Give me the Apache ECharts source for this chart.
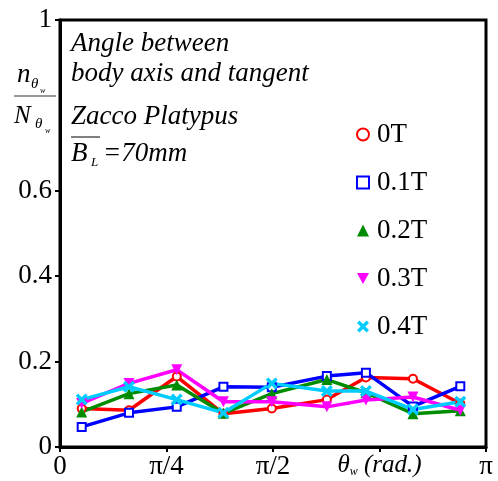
<!DOCTYPE html>
<html>
<head>
<meta charset="utf-8">
<script src="https://cdn.jsdelivr.net/npm/echarts@6/dist/echarts.min.js"></script>
<style>
  html, body { margin: 0; padding: 0; background: #fff; }
  #chart { width: 498px; height: 481px; }
</style>
</head>
<body>
<div id="chart"></div>
<script>
// angle bins (rad) and n/N ratios
var seriesNames = ['0T', '0.1T', '0.2T', '0.3T', '0.4T'];
var binCenters = [0.160, 0.509, 0.861, 1.205, 1.562, 1.968, 2.256, 2.603, 2.952];
var ratio0T  = [0.090, 0.086, 0.165, 0.078, 0.090, 0.111, 0.163, 0.160, 0.102];
var ratio01T = [0.047, 0.080, 0.094, 0.141, 0.140, 0.166, 0.174, 0.095, 0.142];
var ratio02T = [0.082, 0.125, 0.145, 0.079, 0.125, 0.158, 0.127, 0.078, 0.085];
var ratio03T = [0.102, 0.149, 0.181, 0.106, 0.106, 0.094, 0.110, 0.117, 0.086];
var ratio04T = [0.111, 0.141, 0.111, 0.080, 0.149, 0.131, 0.131, 0.088, 0.106];
var yTicks = [0, 0.2, 0.4, 0.6, 1];
var xTicks = [0, Math.PI / 4, Math.PI / 2, 3 * Math.PI / 4, Math.PI];
var xTickLabels = ['0', 'π/4', 'π/2', '{i|θ}{s|w}{i| (rad.)}', 'π'];

var allRatios = [ratio0T, ratio01T, ratio02T, ratio03T, ratio04T];
var colors = ['#ff0000', '#0000ff', '#008c00', '#ff00ff', '#00ccff'];
var crossPath = 'path://M2,0 L5,3 L8,0 L10,2 L7,5 L10,8 L8,10 L5,7 L2,10 L0,8 L3,5 L0,2 Z';
var downTriangle = 'path://M0,0 L10,0 L5,9 Z';
var symbols = ['emptyCircle', 'emptyRect', 'triangle', downTriangle, crossPath];
var sizes = [8, 8, 11, 11, 12];
var serif = '"Liberation Serif", "Times New Roman", serif';

function makeSeries(i) {
  return {
    type: 'line',
    name: seriesNames[i],
    data: binCenters.map(function (x, k) { return [x, allRatios[i][k]]; }),
    symbol: symbols[i],
    symbolSize: sizes[i],
    color: colors[i],
    lineStyle: { width: 3.5 },
    itemStyle: { borderWidth: 3.5 }
  };
}

function txt(text, x, y, size, italic) {
  return {
    type: 'text',
    x: x, y: y,
    style: {
      text: text,
      font: (italic ? 'italic ' : '') + size + 'px ' + serif,
      fill: '#000',
      verticalAlign: 'middle'
    }
  };
}

var option = {
  backgroundColor: '#ffffff',
  animation: false,
  grid: {
    left: 60, right: 12, top: 20, bottom: 34,
    show: true, borderColor: '#000', borderWidth: 3
  },
  xAxis: {
    type: 'value',
    min: 0,
    max: Math.PI,
    axisLine: { lineStyle: { color: '#000', width: 3 } },
    axisTick: { customValues: xTicks, length: 5, lineStyle: { color: '#000', width: 2 } },
    splitLine: { show: false },
    axisLabel: {
      customValues: xTicks,
      color: '#000',
      fontFamily: serif,
      fontSize: 27,
      margin: 6,
      formatter: function (v) {
        for (var k = 0; k < xTicks.length; k++) {
          if (Math.abs(v - xTicks[k]) < 1e-6) return xTickLabels[k];
        }
        return '';
      },
      rich: {
        i: { fontStyle: 'italic', fontFamily: serif, fontSize: 25, color: '#000' },
        s: { fontStyle: 'italic', fontFamily: serif, fontSize: 12, color: '#000', verticalAlign: 'bottom' }
      }
    }
  },
  yAxis: {
    type: 'value',
    min: 0,
    max: 1,
    axisLine: { lineStyle: { color: '#000', width: 3 } },
    axisTick: { customValues: yTicks, length: 5, lineStyle: { color: '#000', width: 2 } },
    splitLine: { show: false },
    axisLabel: {
      customValues: yTicks,
      color: '#000',
      fontFamily: serif,
      fontSize: 27,
      margin: 8
    }
  },
  legend: {
    orient: 'vertical',
    left: 351,
    top: 116,
    itemWidth: 12,
    itemHeight: 12,
    itemGap: 21,
    data: seriesNames.map(function (n, i) { return { name: n, icon: symbols[i] }; }),
    textStyle: { color: '#000', fontFamily: serif, fontSize: 27, lineHeight: 26, padding: [0, 0, 0, 3] }
  },
  graphic: [
    txt('Angle between', 71, 44, 27, true),
    txt('body axis and tangent', 71, 74, 27, true),
    txt('Zacco Platypus', 71, 117, 27, true),
    { type: 'line', shape: { x1: 71, y1: 137, x2: 100, y2: 137 }, style: { stroke: '#000', lineWidth: 1 } },
    txt('B', 71, 154, 27, true),
    txt('L', 91, 163, 13, true),
    txt('=70mm', 103, 154, 27, true),
    // y axis name n/N
    txt('n', 17, 75, 27, true),
    txt('θ', 31, 84, 15, true),
    txt('w', 40, 91, 8, true),
    { type: 'line', shape: { x1: 14, y1: 96, x2: 56, y2: 96 }, style: { stroke: '#333', lineWidth: 1 } },
    txt('N', 14, 116, 25, true),
    txt('θ', 35, 124, 15, true),
    txt('w', 45, 131, 8, true)
  ],
  series: [0, 1, 2, 3, 4].map(makeSeries)
};

var chart = echarts.init(document.getElementById('chart'), null, { renderer: 'canvas' });
chart.setOption(option);
</script>
</body>
</html>
